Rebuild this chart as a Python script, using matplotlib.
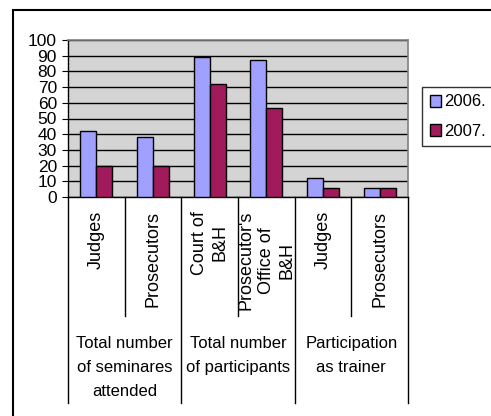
import matplotlib
matplotlib.use("Agg")
import matplotlib.pyplot as plt
import matplotlib.patches as mpatches
import matplotlib.transforms as mtransforms
import numpy as np

plt.rcParams['font.family'] = ['Liberation Sans', 'DejaVu Sans']

# ----------------- data -----------------
sub_labels = ["Judges", "Prosecutors", "Court of\nB&H", "Prosecutor's\nOffice of\nB&H",
              "Judges", "Prosecutors"]
group_labels = ["Total number\nof seminares\nattended", "Total number\nof participants",
                "Participation\nas trainer"]
group_sizes = [2, 2, 2]
series_names = ["2006.", "2007."]
values_2006 = [42, 38, 89, 87, 12, 6]
values_2007 = [20, 20, 72, 57, 6, 6]

c2006 = "#A0A0FF"
c2007 = "#A11B5C"

fig = plt.figure(figsize=(4.91, 4.16), dpi=100)
ax = fig.add_axes([68/491, 1 - 197/416, 340/491, 157/416])

x = np.arange(len(sub_labels))
w = 0.28
ax.bar(x - w/2, values_2006, w, color=c2006, edgecolor="black", linewidth=1, label=series_names[0], zorder=3)
ax.bar(x + w/2, values_2007, w, color=c2007, edgecolor="black", linewidth=1, label=series_names[1], zorder=3)

ax.set_facecolor("#D4D4D4")
ax.set_xlim(-0.5, len(sub_labels) - 0.5)
ax.set_ylim(0, 100)
ax.set_yticks(range(0, 101, 10))
ax.yaxis.grid(True, color="black", linewidth=1)
ax.set_axisbelow(True)
ax.tick_params(axis="y", labelsize=12.5, length=4, pad=4, direction="out")
ax.set_xticks([])
for s in ["top", "right"]:
    ax.spines[s].set_color("#808080")
    ax.spines[s].set_linewidth(1.2)
for s in ["left", "bottom"]:
    ax.spines[s].set_color("black")
    ax.spines[s].set_linewidth(1)

# multi-level category axis
trans = mtransforms.blended_transform_factory(ax.transData, ax.transAxes)
inner_y = -(316 - 197) / 157
outer_y = -(403 - 197) / 157
bounds = np.cumsum([0] + group_sizes) - 0.5
for i in range(len(sub_labels) + 1):
    pos = i - 0.5
    y_end = outer_y if pos in bounds else inner_y
    ax.plot([pos, pos], [0, y_end], color="black", linewidth=1, transform=trans, clip_on=False)

for i, lab in enumerate(sub_labels):
    ax.text(i, -(211 - 197) / 157, lab, rotation=90, ha="center", va="top",
            multialignment="center", fontsize=13, linespacing=1.25, transform=trans)

for g, lab in enumerate(group_labels):
    cx = (bounds[g] + bounds[g + 1]) / 2
    ax.text(cx, -(336 - 197) / 157, lab, ha="center", va="top", multialignment="center",
            fontsize=12, linespacing=1.75, transform=trans)

# legend
leg = fig.legend(loc="upper left", bbox_to_anchor=(422/491, 1 - 87/416), fontsize=12,
                 frameon=True, fancybox=False, edgecolor="black", handlelength=0.7,
                 handleheight=0.7, handletextpad=0.2, borderpad=0.45, labelspacing=0.85,
                 borderaxespad=0)
leg.get_frame().set_linewidth(1)

# outer chart border
fig.patches.append(mpatches.Rectangle((13/491, -0.1), 1.1, 1.1 - 10/416, fill=False,
                                      edgecolor="black", linewidth=1.5,
                                      transform=fig.transFigure, figure=fig))

fig.savefig("out.png", dpi=100)
